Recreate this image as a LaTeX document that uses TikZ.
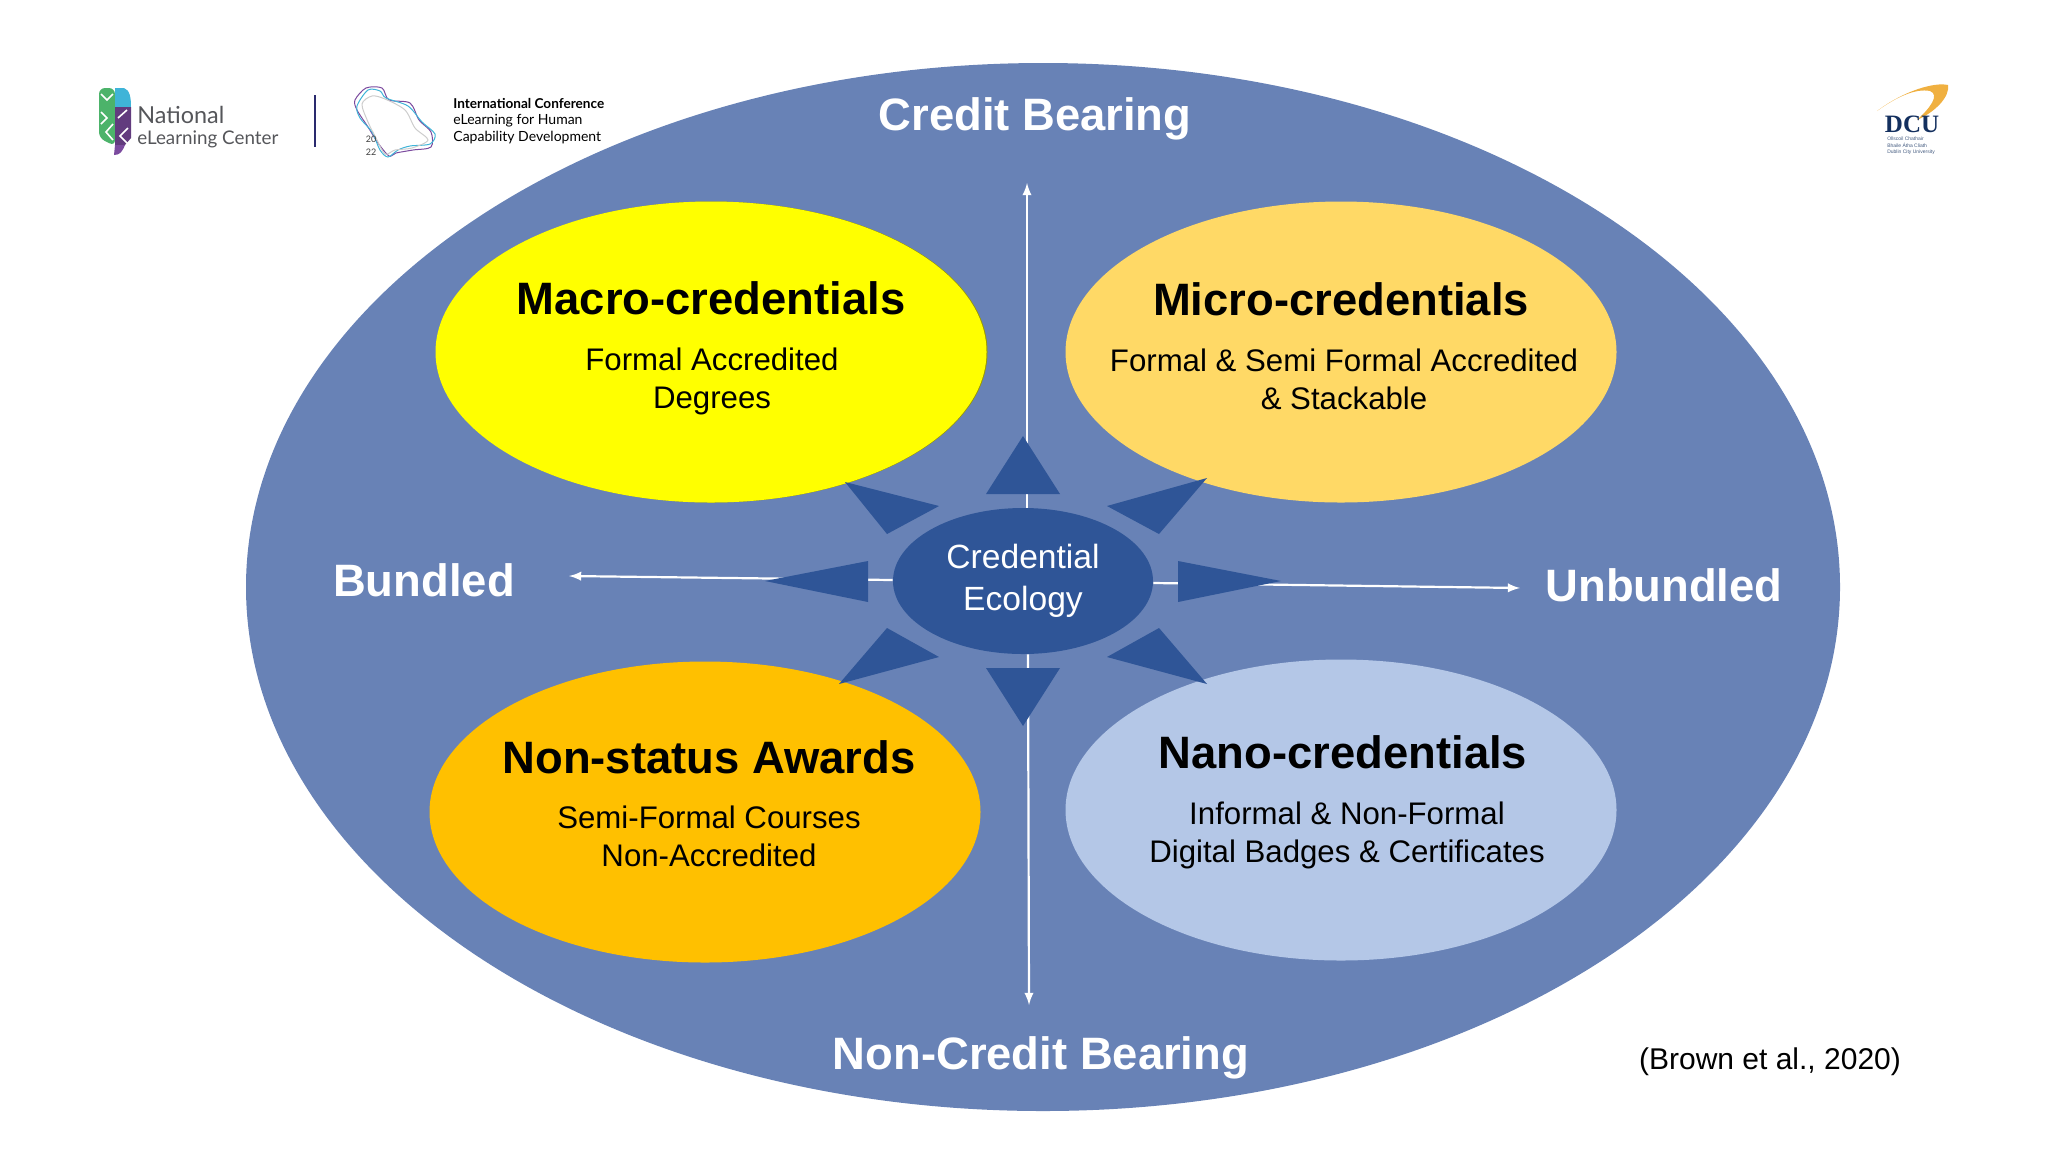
\documentclass[tikz,border=0pt]{standalone}
\usepackage{fontspec}
\setmainfont{Liberation Sans}
\newfontfamily\logofont{Lato}
\newfontfamily\dcufont{Liberation Serif}
\usetikzlibrary{shapes.geometric, positioning}

\definecolor{outerblue}{HTML}{6882B6}
\definecolor{coreblue}{HTML}{2F5597}
\definecolor{macrofill}{HTML}{FFFF00}
\definecolor{microfill}{HTML}{FFD966}
\definecolor{awardfill}{HTML}{FFC000}
\definecolor{nanofill}{HTML}{B4C7E7}
\definecolor{logogray}{HTML}{55565A}
\definecolor{logogreen}{HTML}{4CB36A}
\definecolor{logonavy}{HTML}{2A2A6E}
\definecolor{logopurple}{HTML}{7B4A9E}
\definecolor{logocyan}{HTML}{3FB4D8}
\definecolor{dcublue}{HTML}{14305F}
\definecolor{dcuorange}{HTML}{F0B040}

\tikzset{
    blob/.style={ellipse, inner sep=0pt, minimum width=275.5pt, minimum height=150.5pt},
    title/.style={font=\fontsize{22.7}{26}\selectfont\bfseries, text=black},
    body/.style={font=\fontsize{15.6}{19}\selectfont, align=center, text=black},
    axis/.style={font=\fontsize{22.7}{26}\selectfont\bfseries, text=white},
    whiteline/.style={draw=white, line width=1.1pt, ->, >=latex},
    spike/.style={fill=coreblue},
    logotext/.style={inner sep=0pt, anchor=west, text=black}
}

\begin{document}
\begin{tikzpicture}[x=0.5pt, y=-0.5pt]

    \useasboundingbox (0,0) rectangle (2048,1152);

    % outer ellipse and the four credential types
    \node[ellipse, inner sep=0pt, fill=outerblue, minimum width=797pt, minimum height=524pt] (ecology) at (1043,587) {};
    \node[blob, fill=black!40!macrofill] (macroedge) at (712,352) {};
    \node[blob, fill=macrofill] (macro) at (711,352) {};
    \node[blob, fill=microfill] (micro) at (1341,352) {};
    \node[blob, fill=awardfill] (award) at (705,812) {};
    \node[blob, fill=nanofill] (nano) at (1341,810) {};

    \node[ellipse, inner sep=0pt, fill=coreblue, minimum width=130pt, minimum height=73pt, align=center, text=white, font=\fontsize{16.8}{21}\selectfont] (core) at (1023,581) {Credential\\Ecology};

    % axis lines
    \coordinate (creditend) at (1027,183);
    \coordinate (noncreditend) at (1029,1005);
    \coordinate (bundledend) at (569,576);
    \coordinate (unbundledend) at (1520,588);
    \draw[whiteline] ([xshift=2pt]core.north) -- (creditend);
    \draw[whiteline] ([xshift=2.5pt]core.south) -- (noncreditend);
    \draw[whiteline] ([yshift=0.5pt]core.west) -- (bundledend);
    \draw[whiteline] ([yshift=-1pt]core.east) -- (unbundledend);

    % spikes round the core
    \fill[spike] (1023,436) -- (986,494) -- (1060,494) -- cycle;
    \fill[spike] (1023,726) -- (986,668) -- (1060,668) -- cycle;
    \fill[spike] (765,581) -- (868,561) -- (868,602) -- cycle;
    \fill[spike] (1281,581) -- (1178,561) -- (1178,602) -- cycle;
    \fill[spike] (845,482) -- (939,506) -- (887,534) -- cycle;
    \fill[spike] (1207,478) -- (1107,506) -- (1159,534) -- cycle;
    \fill[spike] (839,684) -- (939,657) -- (887,628) -- cycle;
    \fill[spike] (1207,684) -- (1107,657) -- (1159,628) -- cycle;

    % labels
    \node[title] (macrotitle) at (711,298) {Macro-credentials};
    \node[body] (macrobody) at (712,381) {Formal Accredited\\Degrees};
    \node[title] (microtitle) at (1341,299) {Micro-credentials};
    \node[body] (microbody) at (1344,379) {Formal \& Semi Formal Accredited\\\& Stackable};
    \node[title] (awardtitle) at (709,757) {Non-status Awards};
    \node[body] (awardbody) at (709,836) {Semi-Formal Courses\\Non-Accredited};
    \node[title] (nanotitle) at (1343,752) {Nano-credentials};
    \node[body] (nanobody) at (1347,835) {Informal \& Non-Formal\\Digital Badges \& Certificates};

    \node[axis] (credit) at (1035,119) {Credit Bearing};
    \node[axis] (noncredit) at (1041,1058) {Non-Credit Bearing};
    \node[axis] (bundled) at (424,580) {Bundled};
    \node[axis] (unbundled) at (1664,585) {Unbundled};
    \node[font=\fontsize{15}{18}\selectfont] (source) at (1770,1062) {(Brown et al., 2020)};

    % national elearning center logo
    \fill[logogreen, rounded corners=3] (115,88) -- (99,88) -- (99,138) -- (115,146) -- cycle;
    \fill[logocyan] (115,88) -- (124,88) .. controls (130,90) and (131,98) .. (131,107) -- (115,107) -- cycle;
    \fill[logopurple!80!black] (115,107) -- (131,107) -- (131,138) -- (125,145) -- (115,145) -- cycle;
    \fill[logopurple] (115,145) -- (125,145) .. controls (122,152) and (120,155) .. (114,155) -- cycle;
    \draw[white, line width=0.8pt] (101,94) -- (107,100) -- (113,94) (101,112) -- (107,118) -- (101,124) (113,124) -- (106,132) -- (113,140) (118,118) -- (127,110) (128,128) -- (120,136) -- (128,144);
    \node[logotext, text=logogray, font=\logofont\fontsize{11.7}{14}\selectfont] (nelcname) at (137,115) {National};
    \node[logotext, text=logogray, font=\logofont\fontsize{9.4}{12}\selectfont] (nelcsub) at (137,139) {eLearning Center};
    \draw[logonavy, line width=0.9pt] (315,95) -- (315,147);

    % conference logo
    \draw[logopurple, line width=0.5pt] plot[smooth cycle] coordinates {(355,100) (366,88) (382,88) (389,100) (410,103) (419,120) (431,132) (431,147) (413,150) (396,153) (389,156) (378,143) (368,127) (357,110)};
    \draw[logocyan, line width=0.5pt] plot[smooth cycle] coordinates {(357,106) (368,90) (380,91) (386,98) (408,106) (422,122) (435,134) (430,144) (410,146) (398,150) (388,157) (380,150) (372,132) (360,118)};
    \draw[black!20, line width=0.5pt] plot[smooth cycle] coordinates {(362,104) (372,96) (385,99) (405,110) (415,128) (428,140) (412,148) (395,150) (385,154) (376,138) (368,122)};
    \node[inner sep=0pt, font=\logofont\fontsize{4.5}{6.5}\selectfont, align=center, text=black!75] (confyear) at (371,146) {20\\22};
    \node[logotext, font=\logofont\bfseries\fontsize{6.8}{8}\selectfont] (confname) at (453,103) {International Conference};
    \node[logotext, font=\logofont\fontsize{7}{8}\selectfont] (conftopic) at (453,121) {eLearning for Human};
    \node[logotext, font=\logofont\fontsize{7}{8}\selectfont] (confcap) at (453,138) {Capability Development};

    % dcu logo
    \fill[dcuorange] (1877,111) .. controls (1905,90) and (1935,82) .. (1948,85) .. controls (1950,97) and (1935,112) .. (1917,120) .. controls (1930,108) and (1940,95) .. (1930,91) .. controls (1915,88) and (1895,98) .. cycle;
    \node[inner sep=0pt, text=dcublue, font=\dcufont\bfseries\fontsize{12.5}{14}\selectfont] (dcuname) at (1912,124) {DCU};
    \node[inner sep=0pt, text=dcublue!80, align=left, font=\fontsize{2.5}{3.3}\selectfont] (dcusub) at (1911,146) {Ollscoil Chathair\\Bhaile Átha Cliath\\Dublin City University};

\end{tikzpicture}
\end{document}
